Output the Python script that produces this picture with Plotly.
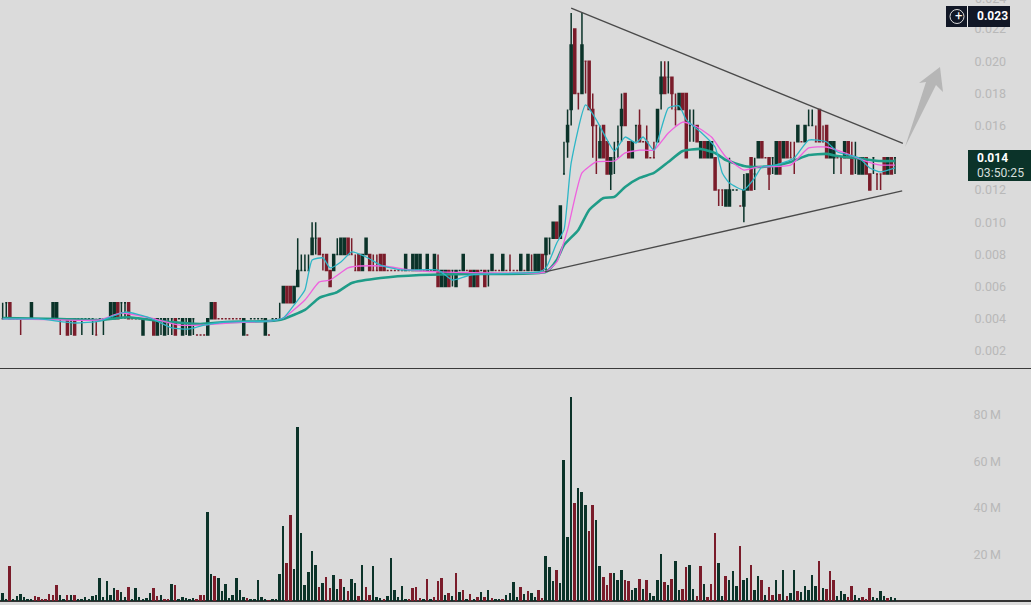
import plotly.graph_objects as go

W, H = 1031, 605

# Price data in thousandths of the quote unit (one tick = 0.001)
opens = [
 4,5,5,4,4,4,4,4,4,4, 4,4,4,4,4,4,4,4,4,4, 4,4,4,4,4,4,3,4,4,4, 4,4,5,5,5,5,4,4,4,3,
 4,4,4,3,4,3,4,4,4,4, 3,4,3,4,3,3,3,3,4,5, 4,4,4,4,4,4,4,3,3,4, 4,4,4,3,3,4,4,4,5,6,
 6,5,6,7,7,7,8,9,9,8, 8,7,7,8,8,8,9,8,7,8, 7,8,8,7,7,8,8,7,7,7, 7,7,7,7,7,7,7,7,7,7,
 7,7,6,6,7,7,6,7,7,7, 7,6,7,7,7,7,7,7,7,7, 7,7,7,7,7,7,7,7,7,7, 8,8,9,9,10,9,13,15,17,22,
 18,18,20,20,17,16,14,16,15,13, 14,15,16,18,15,14,16,16,15,15, 14,14,15,18,19,19,19,17,17,18,
 18,16,16,16,14,15,14,14,14,12, 12,11,11,12,12,11,11,12,14,13, 14,15,14,14,14,13,15,14,15,14,
 14,15,15,15,16,16,15,17,15,16, 14,14,14,14,14,15,14,14,13,13, 14,13,14,13,13,14,13,14,14]
highs = [
 5,5,5,4,4,4,4,4,5,4, 4,4,4,4,5,5,4,4,4,4, 4,4,4,4,4,4,4,4,4,4, 5,5,5,5,5,5,4,4,4,4,
 4,4,4,4,4,4,4,4,4,4, 4,4,4,4,3,3,3,4,5,5, 4,4,4,4,4,4,4,4,3,4, 4,4,4,4,3,4,4,5,6,6,
 6,6,9,8,8,8,10,10,9,8, 8,7,8,9,9,9,9,9,8,8, 8,9,8,8,8,8,8,7,7,7, 7,7,8,7,8,8,8,7,8,7,
 8,8,7,7,7,7,7,7,8,7, 7,7,7,7,7,7,8,7,7,8, 7,8,7,7,8,7,8,8,8,8, 8,9,9,10,10,11,15,17,23,22,
 18,23,20,20,18,16,16,16,15,14, 15,16,18,18,15,15,16,17,15,16, 14,15,17,20,20,20,19,18,18,18,
 18,17,17,16,15,15,15,15,14,12, 12,12,14,12,12,11,13,13,14,14, 15,15,14,14,14,15,15,15,15,15,
 15,16,15,16,17,17,16,17,16,16, 15,15,14,14,15,15,15,15,14,14, 14,13,14,13,13,14,14,14,14]
lows = [
 4,4,4,4,4,3,4,4,4,4, 4,4,4,4,4,4,3,4,3,3, 3,4,3,4,4,3,3,4,3,4, 4,4,4,4,4,4,4,4,4,3,
 4,4,3,3,3,3,3,3,3,4, 3,3,3,3,3,3,3,3,4,4, 4,4,4,4,4,4,4,3,3,4, 4,4,4,3,3,4,4,4,5,5,
 5,5,6,7,7,7,8,8,8,7, 7,6,7,8,8,8,8,8,7,7, 7,8,7,7,7,7,7,7,7,7, 7,7,7,7,7,7,7,7,7,7,
 7,6,6,6,6,6,6,7,7,7, 6,6,6,7,6,6,7,7,7,7, 7,7,7,7,7,7,7,7,7,7, 7,7,8,9,9,9,13,14,16,18,
 17,18,18,17,14,13,14,14,13,12, 13,14,15,16,14,14,15,15,15,14, 14,14,15,17,18,18,17,16,17,17,
 14,15,15,15,14,14,14,14,12,11, 11,11,11,12,12,11,10,12,12,12, 14,14,14,12,13,13,13,14,14,14,
 13,15,15,15,16,16,15,15,15,14, 14,13,14,13,14,14,13,13,13,13, 13,12,13,12,12,13,13,13,13]
closes = [
 4,5,4,4,4,4,4,4,5,4, 4,4,4,4,5,5,4,4,3,4, 3,4,4,4,4,4,3,4,4,4, 5,5,4,5,5,4,4,4,4,4,
 4,4,3,4,4,4,4,4,3,4, 4,4,4,4,3,3,3,4,5,4, 4,4,4,4,4,4,4,4,3,4, 4,4,4,4,3,4,4,4,6,5,
 5,6,7,7,7,7,9,9,8,8, 7,6,8,8,9,9,8,8,7,7, 8,9,7,7,7,7,7,7,7,7, 7,7,8,7,8,8,8,7,8,7,
 8,6,7,7,6,7,7,7,8,7, 6,7,6,7,6,7,8,7,7,8, 7,7,7,7,8,7,8,7,8,8, 7,9,9,10,9,11,13,16,21,18,
 18,21,20,17,16,16,15,14,13,14, 14,15,17,16,14,15,16,15,15,14, 14,14,17,19,18,19,18,17,18,17,
 14,16,16,15,15,14,15,15,12,12, 12,12,12,12,12,11,12,13,12,13, 15,14,14,13,14,15,13,15,14,14,
 14,16,15,16,16,16,15,15,15,14, 15,15,14,14,15,14,13,14,14,14, 13,12,14,13,13,13,14,13,14]

# Volume in millions, with its colour direction (g = up, r = down)
volumes = [
 3.4,1,15,1,2.3,3.1,1.9,1,1,2.3, 1.9,1,1,3.1,2.7,7,2.7,0.6,2.7,2.7,
 2.7,1,1,1.9,1,2.3,2.7,10,1.9,8.7, 2.7,5.7,4.9,4,1.9,6.1,1,5.7,1.9,1,
 1.4,3.6,5.7,2.3,2.7,1,1,7.4,7,0.6, 1.9,1.4,1,1.4,0.6,2.7,2.7,38.3,11.7,10.9,
 10,4.4,7.4,1.4,2.7,10,4.9,1.9,1.4,1, 0.6,9.1,1.9,0.6,0.4,0.6,0.6,11.7,32.3,16.4,
 37,13.9,75,29.3,7,12.6,21.6,15.6,6.1,7.9, 10.4,5.7,11.3,5.3,
 9.6,6.1,4.4,9.6,7.9,2.3,15.6,6.1,2.7,15.1, 1.9,1.4,1,2.3,18.6,4.9,1.9,6.6,0.6,1,
 5.7,6.1,1.4,0.6,9.6,1,1.9,8.7,10,2.7, 3.6,2.3,12.1,4,4.9,1,3.1,1,1.9,4,
 1.9,4.9,1.4,1,0.6,1,2.7,3.6,8.3,1.9, 6.1,3.1,4.4,3.6,1.9,4.9,1.4,19.4,14.7,8.7,
 13.4,7.9,60.6,27.6,87.7,42,48.6,46.9,41.3,30, 41.3,34.7,15.1,10.4,7,12.1,12.1,9.1,13.4,9.1,
 8.7,4.9,5.7,9.6,5.3,9.1,3.6,2.3,9.1,20.3, 8.3,7,9.6,17.3,4.9,
 5.3,14.7,15.6,5.3,2.3,15.1,7.4,1.9,7.4,29.3, 16.4,2.3,10.9,9.1,13,6.6,23.7,9.1,10,15.6,
 4.9,10.9,9.1,2.7,6.1,2.7,9.1,3.1,13.4,2.3, 3.6,13.4,4.4,4,6.6,4.9,11.3,6.6,17.3,5.7,
 5.3,13,9.1,2.3,4.4,3.1,1.9,6.6,2.7,1.4, 1.9,1,5.7,1.9,1.4,4.4,2.3,1.4,1.9,1.4]
volume_dirs = (
 "ggrggggggr" "rrrrrrggrg" "rggggggggg" "ggrggrgggg" "ggrrgrrgrg" "ggggrrrggr"
 "ggggggggrg" "ggggrggggr" "rgggggggrg" "rrgg"
 "rgrggrgrrg" "ggrggggggr" "rrrgrgrrrg" "rgrgrgrgrg" "rgrggrgggg" "rgrggrrggg"
 "rggggrgggr" "rggrrrgggr" "rggrgrgggg" "rgrgg"
 "rrggrrgrrr" "ggrgggrggr" "ggrgrrgrgr" "ggrgggggrg" "rrrgggrrgg" "rrrggggrgg")

# Moving averages: candle index and value (thousandths)
slow_i = [0,16,27,35,44,55,62,74,78,84,88,93,97,105,116,130,151,154,156,160,163,167,170,173,177,181,185,189,194,198,201,206,210,214,219,224,229,232,239,244,248]
slow_v = [4.05,3.99,3.93,4.1,3.86,3.68,3.8,3.86,3.99,4.55,5.3,5.66,6.22,6.53,6.72,6.78,6.91,7.65,8.58,9.52,10.76,11.5,11.57,12.19,12.75,13.06,13.74,14.42,14.55,14.3,13.86,13.49,13.43,13.49,13.74,14.17,14.24,14.11,13.93,13.8,13.8]
mid_i = [0,16,27,33,41,49,55,63,74,78,84,88,91,96,99,106,113,121,149,151,154,157,161,165,170,173,177,181,185,189,193,197,201,206,210,219,224,229,234,239,244,248]
mid_v = [3.99,3.93,3.93,4.36,4.05,3.61,3.61,3.74,3.86,4.05,5.17,6.29,6.41,7.16,7.28,7.28,7.03,6.91,6.84,6.91,7.53,9.52,13.06,13.74,13.8,14.3,14.48,14.48,15.54,16.22,15.91,15.29,14.05,13.24,13.43,13.55,14.61,14.67,14.3,13.86,13.55,13.55]
fast_i = [0,10,20,27,34,41,47,52,56,62,74,78,81,84,86,89,91,94,97,101,105,111,121,125,130,149,151,154,156,158,162,165,168,170,173,176,178,181,185,188,190,194,198,200,202,206,209,211,215,220,224,229,232,238,241,244,248]
fast_v = [3.99,3.99,3.74,3.86,4.42,4.05,3.43,3.37,3.61,3.8,3.86,4.05,4.86,5.79,7.65,7.78,7.16,7.53,8.15,7.84,7.34,7.03,7.03,6.41,6.72,6.91,7.16,8.71,9.52,13.68,17.28,16.35,15.11,14.42,15.29,14.92,15.29,14.48,17.09,17.22,16.35,15.6,14.67,13.06,12.43,12,12.75,13.43,13.55,13.99,15.1,14.98,14.36,13.99,13.37,13.12,13.37]

# Trendlines: candle index and price
upper_i = [158, 250.2]
upper_v = [0.0233, 0.01489]
lower_i = [150.7, 250]
lower_v = [0.00691, 0.01194]

price_ticks = [0.002,0.004,0.006,0.008,0.010,0.012,0.016,0.018,0.020,0.022]
price_labels = ["0.002","0.004","0.006","0.008","0.010","0.012","0.016","0.018","0.020","0.022"]
volume_ticks = [20,40,60,80]
volume_labels = ["20\u2009M","40\u2009M","60\u2009M","80\u2009M"]

assert len(opens)==len(highs)==len(lows)==len(closes)==249, (len(opens),len(highs),len(lows),len(closes))
assert len(volumes)==249 and len(volume_dirs)==249, (len(volumes),len(volume_dirs))

BG="#DBDBDB"; GREEN="#0B3329"; RED="#7A1C2A"; TICK="#B8B8B8"; FONT="Roboto"
idx = list(range(249))
K = 0.001

def px(x): return x/W
def py(y): return 1-y/H

fig = go.Figure()
fig.add_trace(go.Candlestick(
    x=idx, open=[v*K for v in opens], high=[v*K for v in highs],
    low=[v*K for v in lows], close=[v*K for v in closes],
    increasing=dict(line=dict(color=GREEN,width=1.5),fillcolor=GREEN),
    decreasing=dict(line=dict(color=RED,width=1.5),fillcolor=RED),
    whiskerwidth=0, xaxis="x", yaxis="y", hoverinfo="skip"))
smooth = dict(shape="spline",smoothing=0.5)
fig.add_trace(go.Scatter(x=slow_i,y=[v*K for v in slow_v],mode="lines",line=dict(color="#1F9C88",width=2.6,**smooth),xaxis="x",yaxis="y",hoverinfo="skip"))
fig.add_trace(go.Scatter(x=mid_i,y=[v*K for v in mid_v],mode="lines",line=dict(color="#EE62DE",width=1.3,**smooth),xaxis="x",yaxis="y",hoverinfo="skip"))
fig.add_trace(go.Scatter(x=fast_i,y=[v*K for v in fast_v],mode="lines",line=dict(color="#2DB6C6",width=1.3,**smooth),xaxis="x",yaxis="y",hoverinfo="skip"))
fig.add_trace(go.Scatter(x=upper_i,y=upper_v,mode="lines",line=dict(color="#4A4A4A",width=1.3),xaxis="x",yaxis="y",hoverinfo="skip"))
fig.add_trace(go.Scatter(x=lower_i,y=lower_v,mode="lines",line=dict(color="#4A4A4A",width=1.3),xaxis="x",yaxis="y",hoverinfo="skip"))
fig.add_trace(go.Bar(x=idx,y=volumes,width=0.55,
    marker=dict(color=[GREEN if d=="g" else RED for d in volume_dirs],line=dict(width=0)),
    xaxis="x2",yaxis="y2",hoverinfo="skip"))

xr = [-0.742, 285.8]
arrow = [(905,147),(926,82),(919,83),(940,67),(943,92),(936,85)]
path = "M " + " L ".join(f"{px(a)} {py(b)}" for a,b in arrow) + " Z"
shapes = [
    dict(type="path",path=path,xref="paper",yref="paper",fillcolor="#B6B6B6",line=dict(width=0)),
    dict(type="line",xref="paper",yref="paper",x0=0,x1=1,y0=py(368.5),y1=py(368.5),line=dict(color="#3A3A3A",width=1)),
    dict(type="rect",xref="paper",yref="paper",x0=px(968),x1=1,y0=py(150),y1=py(181),fillcolor="#0B3329",line=dict(width=0)),
    dict(type="rect",xref="paper",yref="paper",x0=px(946),x1=px(1010),y0=py(6),y1=py(27),fillcolor="#111726",line=dict(width=0)),
    dict(type="line",xref="paper",yref="paper",x0=px(967.5),x1=px(967.5),y0=py(6),y1=py(27),line=dict(color="#E8E8E8",width=1)),
    dict(type="circle",xref="paper",yref="paper",x0=px(950),x1=px(964),y0=py(9.5),y1=py(23.5),line=dict(color="#D8D8D8",width=1)),
]
def note(x,y,t,size,color,bold=False):
    return dict(xref="paper",yref="paper",x=px(x),y=py(y),text=f"<b>{t}</b>" if bold else t,
        showarrow=False,xanchor="left",yanchor="middle",font=dict(family=FONT,size=size,color=color))
anns = [
    note(975,158,"0.014",12,"#FFFFFF",True),
    note(975,172.5,"03:50:25",12.2,"#D5DEDB"),
    note(974.5,16.5,"0.023",12,"#FFFFFF",True),
    note(952.5,16,"+",13,"#FFFFFF"),
    note(973,-2,"0.024",12.5,TICK),
]
fig.update_layout(
    width=W,height=H,margin=dict(l=0,r=0,t=0,b=0,pad=0),
    paper_bgcolor=BG,plot_bgcolor=BG,showlegend=False,hovermode=False,
    xaxis=dict(domain=[0,1],range=xr,visible=False,rangeslider=dict(visible=False),anchor="y"),
    xaxis2=dict(domain=[0,1],range=xr,visible=False,anchor="y2"),
    yaxis=dict(domain=[1-368/H,1],range=[0.000944,0.0238],anchor="free",position=1006/W,side="left",
        tickmode="array",tickvals=price_ticks,ticktext=price_labels,showgrid=False,zeroline=False,showline=False,ticks="",
        tickfont=dict(family=FONT,size=12.5,color=TICK)),
    yaxis2=dict(domain=[0,1-369/H],range=[-4/2.325,232/2.325],anchor="free",position=1001/W,side="left",
        tickmode="array",tickvals=volume_ticks,ticktext=volume_labels,showgrid=False,zeroline=True,zerolinecolor="#333333",zerolinewidth=1.5,showline=False,ticks="",
        tickfont=dict(family=FONT,size=12.5,color=TICK)),
    boxgap=0.2,bargap=0,shapes=shapes,annotations=anns)
fig.write_html("out.html",config={"displayModeBar":False},post_script="document.body.style.margin='0';document.body.style.overflow='hidden';")
